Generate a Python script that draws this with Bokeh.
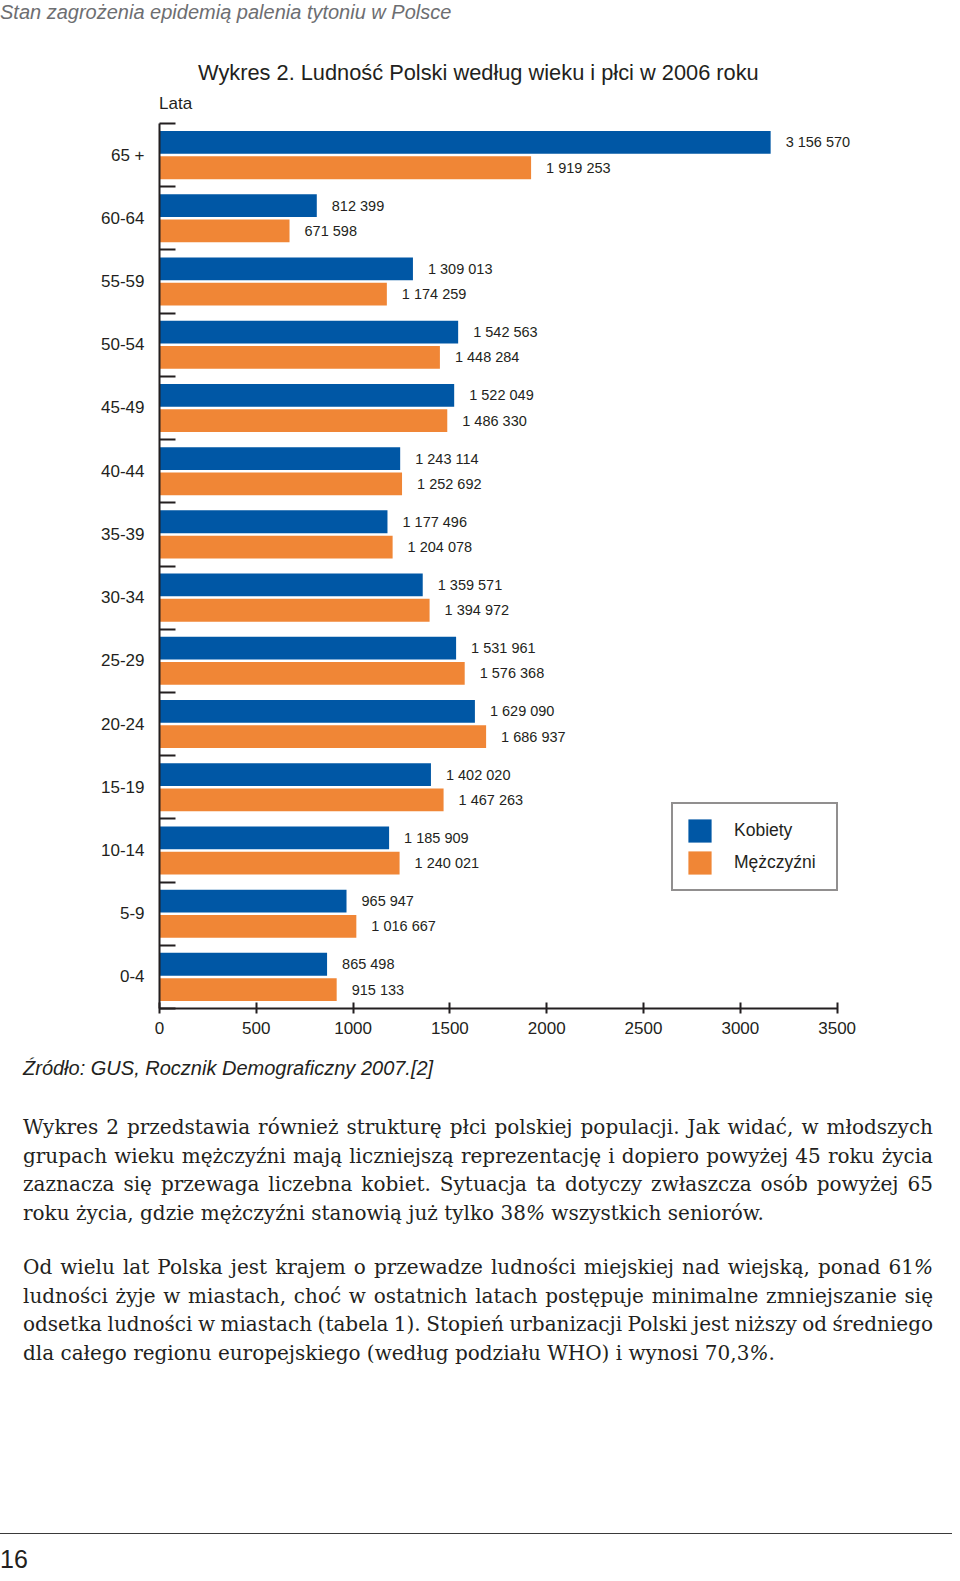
from bokeh.plotting import figure
from bokeh.models import (Range1d, FixedTicker, Legend, LegendItem,
                          ColumnDataSource, Div)
from bokeh.layouts import column
from bokeh.core.properties import value
from bokeh.embed import file_html
from bokeh.resources import INLINE

# ---------------- data ----------------
AGE_GROUPS = ["65 +", "60-64", "55-59", "50-54", "45-49", "40-44", "35-39",
              "30-34", "25-29", "20-24", "15-19", "10-14", "5-9", "0-4"]
WOMEN = [3156570, 812399, 1309013, 1542563, 1522049, 1243114, 1177496,
         1359571, 1531961, 1629090, 1402020, 1185909, 965947, 865498]
MEN = [1919253, 671598, 1174259, 1448284, 1486330, 1252692, 1204078,
       1394972, 1576368, 1686937, 1467263, 1240021, 1016667, 915133]
X_TICKS = [0, 500, 1000, 1500, 2000, 2500, 3000, 3500]
SERIES = ["Kobiety", "Mężczyźni"]

HEADER = "Stan zagrożenia epidemią palenia tytoniu w Polsce"
TITLE = "Wykres 2. Ludność Polski według wieku i płci w 2006 roku"
Y_LABEL = "Lata"
SOURCE = "Źródło: GUS, Rocznik Demograficzny 2007.[2]"
PARA1 = [
    "Wykres 2 przedstawia również strukturę płci polskiej populacji. Jak widać, w młodszych",
    "grupach wieku mężczyźni mają liczniejszą reprezentację i dopiero powyżej 45 roku życia",
    "zaznacza się przewaga liczebna kobiet. Sytuacja ta dotyczy zwłaszcza osób powyżej 65",
    "roku życia, gdzie mężczyźni stanowią już tylko 38% wszystkich seniorów.",
]
PARA2 = [
    "Od wielu lat Polska jest krajem o przewadze ludności miejskiej nad wiejską, ponad 61%",
    "ludności żyje w miastach, choć w ostatnich latach postępuje minimalne zmniejszanie się",
    "odsetka ludności w miastach (tabela 1). Stopień urbanizacji Polski jest niższy od średniego",
    "dla całego regionu europejskiego (według podziału WHO) i wynosi 70,3%.",
]
PAGE_NO = "16"

# ---------------- styles ----------------
BLUE = "#0057a5"
ORANGE = "#f08636"
INK = "#231f20"
GREY = "#6d6e71"
SANS = "Liberation Sans"

n = len(AGE_GROUPS)
pos = [n - 1 - i for i in range(n)]          # top group gets highest index
DODGE = 0.2
BAR_H = 0.36


def fmt(v):
    return f"{v:,}".replace(",", " ")


src_w = ColumnDataSource(dict(y=[q + DODGE for q in pos],
                              right=[v / 1000 for v in WOMEN],
                              label=[fmt(v) for v in WOMEN]))
src_m = ColumnDataSource(dict(y=[q - DODGE for q in pos],
                              right=[v / 1000 for v in MEN],
                              label=[fmt(v) for v in MEN]))


# ---------------- top text block ----------------
def abs_text(txt, left, top, size, lh, family=f"'{SANS}'", style="normal", color=INK):
    return (f'<div style="position:absolute;left:{left}px;top:{top}px;white-space:nowrap;'
            f'font-family:{family};font-size:{size}px;line-height:{lh}px;'
            f'font-style:{style};color:{color};">{txt}</div>')


top_html = ('<div style="position:relative;width:952px;height:114px;">'
            + abs_text(HEADER, 0, 2, 20, 20, style="italic", color=GREY)
            + abs_text(TITLE, 198, 62.2, 21.8, 22)
            + abs_text(Y_LABEL, 159, 94.6, 17, 17)
            + "</div>")
top_div = Div(text=top_html, width=952, height=114, margin=0)

# ---------------- chart ----------------
p = figure(width=952, height=930, title=None,
           x_range=Range1d(0, 3600),
           y_range=Range1d(-0.5, n - 0.5),
           output_backend="svg", toolbar_location=None,
           min_border_left=159, min_border_right=96,
           min_border_top=9, min_border_bottom=36)
p.grid.visible = False
p.outline_line_color = None
p.background_fill_color = "white"
p.border_fill_color = "white"

rw = p.hbar(y="y", left=0, right="right", height=BAR_H, source=src_w,
            fill_color=BLUE, line_color=None)
rm = p.hbar(y="y", left=0, right="right", height=BAR_H, source=src_m,
            fill_color=ORANGE, line_color=None)

for src in (src_w, src_m):
    p.text(x="right", y="y", text="label", source=src, x_offset=15,
           text_baseline="middle", text_align="left",
           text_font=value(SANS), text_font_size="14.5px", text_color=INK)

# x axis
xa = p.xaxis[0]
xa.ticker = FixedTicker(ticks=X_TICKS)
xa.bounds = (X_TICKS[0], X_TICKS[-1])
xa.major_tick_in = 6
xa.major_tick_out = 5
xa.major_tick_line_width = 2
xa.major_tick_line_color = INK
xa.minor_tick_line_color = None
xa.axis_line_width = 2
xa.axis_line_color = INK
xa.major_label_standoff = 8
xa.major_label_text_font = SANS
xa.major_label_text_font_size = "17px"
xa.major_label_text_color = INK

# y axis: labels at group centres, ticks at group boundaries
ya = p.yaxis[0]
ya.ticker = FixedTicker(ticks=pos, minor_ticks=[k - 0.5 for k in range(n + 1)])
ya.major_label_overrides = {q: g for q, g in zip(pos, AGE_GROUPS)}
ya.major_tick_in = 0
ya.major_tick_out = 0
ya.minor_tick_in = 16
ya.minor_tick_out = 0
ya.minor_tick_line_width = 2
ya.minor_tick_line_color = INK
ya.axis_line_width = 2
ya.axis_line_color = INK
ya.major_label_standoff = 15
ya.major_label_text_font = SANS
ya.major_label_text_font_size = "17px"
ya.major_label_text_color = INK

legend = Legend(items=[LegendItem(label=SERIES[0], renderers=[rw]),
                       LegendItem(label=SERIES[1], renderers=[rm])],
                location=(512, 117), orientation="vertical",
                border_line_color=INK, border_line_width=2,
                padding=12, spacing=3, margin=0,
                glyph_width=29, glyph_height=29,
                label_standoff=20, label_width=90,
                label_text_font=SANS, label_text_font_size="17.5px",
                label_text_color=INK, background_fill_color="white",
                background_fill_alpha=1)
p.add_layout(legend)


# ---------------- bottom text block ----------------
def para_html(lines, top):
    rows = []
    for k, ln in enumerate(lines):
        last = k == len(lines) - 1
        align = "left" if last else "justify"
        ws = "normal" if last else "-2.5px"
        txt = ln.replace("%", "<i>%</i>")
        rows.append(f'<div style="white-space:nowrap;text-align:{align};'
                    f'text-align-last:{align};word-spacing:{ws};">{txt}</div>')
    return (f'<div style="position:absolute;left:23px;top:{top}px;width:910px;'
            f"font-family:'DejaVu Serif';font-size:20px;line-height:28.7px;"
            f'color:{INK};">' + "".join(rows) + "</div>")


bot_html = ('<div style="position:relative;width:952px;height:529px;">'
            + abs_text(SOURCE, 23, 14.1, 20, 20, style="italic")
            + para_html(PARA1, 69.0) + para_html(PARA2, 209.0)
            + '<div style="position:absolute;left:0;top:489.3px;width:952px;height:0;'
              'border-top:1.5px solid #3a3a3a;"></div>'
            + abs_text(PAGE_NO, 0, 502.8, 25, 25,
                       family="'Liberation Sans Narrow','Liberation Sans'")
            + "</div>")
bot_div = Div(text=bot_html, width=952, height=529, margin=0)

layout = column(top_div, p, bot_div, spacing=0)
open("out.html", "w").write(file_html(layout, INLINE))
